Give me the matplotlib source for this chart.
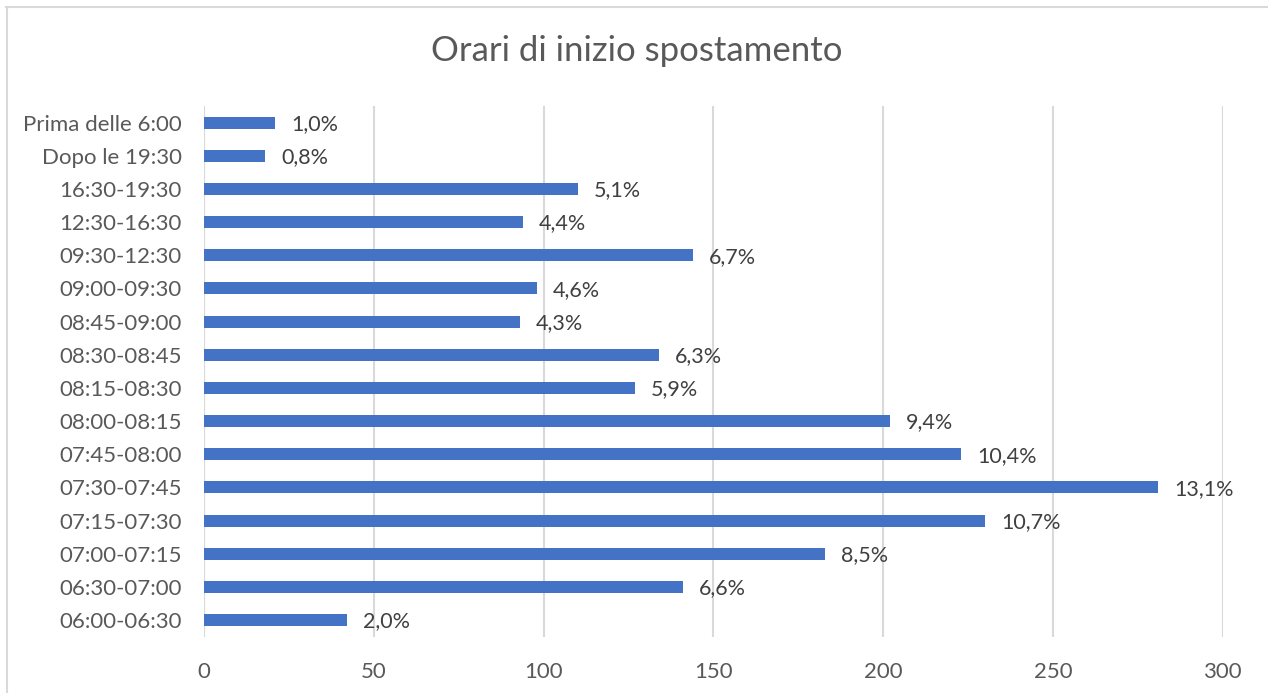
import matplotlib.pyplot as plt
from matplotlib.lines import Line2D

# fasce orarie (dal basso verso l'alto come nel grafico)
fasce = ['06:00-06:30', '06:30-07:00', '07:00-07:15', '07:15-07:30',
         '07:30-07:45', '07:45-08:00', '08:00-08:15', '08:15-08:30',
         '08:30-08:45', '08:45-09:00', '09:00-09:30', '09:30-12:30',
         '12:30-16:30', '16:30-19:30', 'Dopo le 19:30', 'Prima delle 6:00']
spostamenti = [42, 141, 183, 230, 281, 223, 202, 127,
               134, 93, 98, 144, 94, 110, 18, 21]
percentuali = ['2,0%', '6,6%', '8,5%', '10,7%', '13,1%', '10,4%', '9,4%', '5,9%',
               '6,3%', '4,3%', '4,6%', '6,7%', '4,4%', '5,1%', '0,8%', '1,0%']
tick_x = [0, 50, 100, 150, 200, 250, 300]

grigio = '#595959'
blu = '#4472C4'

plt.rcParams['font.family'] = ['Lato', 'DejaVu Sans']

fig = plt.figure(figsize=(12.68, 6.93), dpi=100)
ax = fig.add_axes([204 / 1268, 56.3 / 693, 1018.7 / 1268, 530.7 / 693])

pos = list(range(len(fasce)))
ax.barh(pos, spostamenti, height=0.36, color=blu, zorder=3)

for y, v, p in zip(pos, spostamenti, percentuali):
    ax.annotate(p, (v, y), xytext=(11.5, -1), textcoords='offset points',
                ha='left', va='center', fontsize=15.5, color='#404040')

ax.set_xlim(0, 300)
ax.set_ylim(-0.5, len(fasce) - 0.5)
ax.set_xticks(tick_x)
ax.set_xticklabels([str(t) for t in tick_x])
ax.set_yticks(pos)
ax.set_yticklabels(fasce)
ax.tick_params(axis='both', length=0, labelsize=16, labelcolor=grigio)
ax.tick_params(axis='x', pad=18)
ax.tick_params(axis='y', pad=16)

ax.grid(axis='x', color='#D9D9D9', linewidth=1.5, zorder=0)
for s in ax.spines.values():
    s.set_visible(False)
ax.axvline(0, color='#D9D9D9', linewidth=1.5, zorder=1)

fig.text(637 / 1268, 1 - 51 / 693, 'Orari di inizio spostamento',
         ha='center', va='center', fontsize=25, color=grigio)

# bordo dell'area del grafico
fig.add_artist(Line2D([6 / 1268, 1], [1 - 6.5 / 693, 1 - 6.5 / 693],
                      color='#D9D9D9', linewidth=1.5))
fig.add_artist(Line2D([6.5 / 1268, 6.5 / 1268], [0, 1 - 6.5 / 693],
                      color='#D9D9D9', linewidth=1.5))

fig.savefig('out.png', dpi=100)
